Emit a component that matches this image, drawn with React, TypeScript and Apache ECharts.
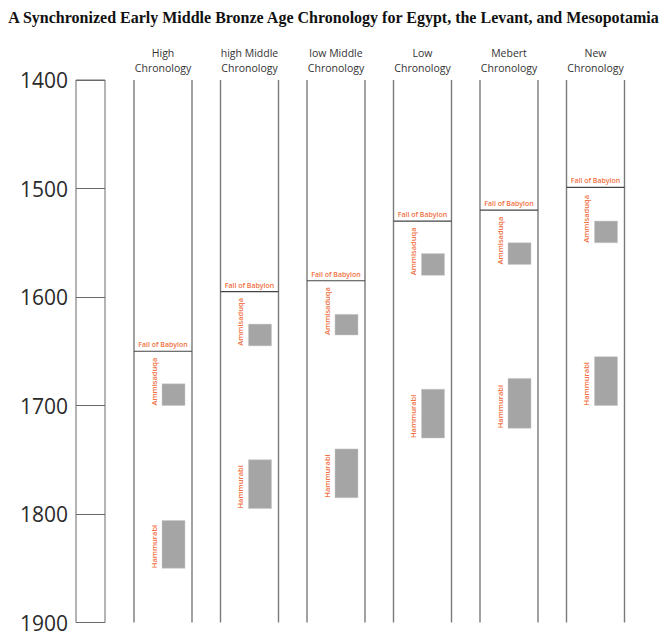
import React, { useEffect, useRef } from "react";
import * as echarts from "echarts";

const titleText =
  "A Synchronized Early Middle Bronze Age Chronology for Egypt, the Levant, and Mesopotamia";
const chronologies = [
  "High\nChronology",
  "high Middle\nChronology",
  "low Middle\nChronology",
  "Low\nChronology",
  "Mebert\nChronology",
  "New\nChronology",
];
const fallOfBabylon = [1650, 1595, 1585, 1530, 1520, 1499];
const ammisaduqaStart = [1680, 1625, 1616, 1560, 1550, 1530];
const ammisaduqaEnd = [1700, 1645, 1635, 1580, 1570, 1550];
const hammurabiStart = [1806, 1750, 1740, 1685, 1675, 1655];
const hammurabiEnd = [1850, 1795, 1785, 1730, 1721, 1700];
const yearMin = 1400;
const yearMax = 1900;
const yearStep = 100;

const ORANGE = "#f2703f";
const FONT = "'Open Sans', 'Noto Sans', sans-serif";

export default function App() {
  const ref = useRef<HTMLDivElement>(null);
  useEffect(() => {
    if (!ref.current) return;
    const chart = echarts.init(ref.current, undefined, { renderer: "svg" });
    const data = chronologies.map((_, i) => [
      i,
      fallOfBabylon[i],
      ammisaduqaStart[i],
      ammisaduqaEnd[i],
      hammurabiStart[i],
      hammurabiEnd[i],
    ]);
    const half = 29;
    const renderItem = (params: any, api: any) => {
      const i = api.value(0);
      const top = api.coord([i, yearMin]);
      const bot = api.coord([i, yearMax]);
      const cx = top[0];
      const yFall = api.coord([i, api.value(1)])[1];
      const a0 = api.coord([i, api.value(2)])[1];
      const a1 = api.coord([i, api.value(3)])[1];
      const h0 = api.coord([i, api.value(4)])[1];
      const h1 = api.coord([i, api.value(5)])[1];
      const lineStyle = { stroke: "#7a7a7a", lineWidth: 1.4 };
      return {
        type: "group",
        children: [
          { type: "line", shape: { x1: cx - half, y1: top[1], x2: cx - half, y2: bot[1] }, style: lineStyle },
          { type: "line", shape: { x1: cx + half, y1: top[1], x2: cx + half, y2: bot[1] }, style: lineStyle },
          { type: "line", shape: { x1: cx - half, y1: yFall, x2: cx + half, y2: yFall }, style: { stroke: "#444", lineWidth: 1.2 } },
          {
            type: "text",
            x: cx,
            y: yFall - 3,
            style: { text: "Fall of Babylon", fill: ORANGE, fontSize: 7, fontWeight: 600, fontFamily: FONT, align: "center", verticalAlign: "bottom" },
          },
          { type: "rect", shape: { x: cx - 1, y: a0, width: 23, height: a1 - a0 }, style: { fill: "#a5a5a5", stroke: "#c8c8c8", lineWidth: 0.5 } },
          { type: "rect", shape: { x: cx - 1, y: h0, width: 23, height: h1 - h0 }, style: { fill: "#a5a5a5", stroke: "#c8c8c8", lineWidth: 0.5 } },
          {
            type: "text",
            x: cx - 9.5,
            y: a1,
            rotation: Math.PI / 2,
            style: { text: "Ammisaduqa", fill: ORANGE, fontSize: 7.5, fontWeight: 600, fontFamily: FONT, align: "left", verticalAlign: "middle" },
          },
          {
            type: "text",
            x: cx - 9.5,
            y: h1,
            rotation: Math.PI / 2,
            style: { text: "Hammurabi", fill: ORANGE, fontSize: 7.5, fontWeight: 600, fontFamily: FONT, align: "left", verticalAlign: "middle" },
          },
        ],
      };
    };
    chart.setOption({
      animation: false,
      backgroundColor: "#ffffff",
      title: {
        text: titleText,
        left: "center",
        top: 4,
        textStyle: { fontFamily: "'Liberation Serif', serif", fontWeight: "bold", fontSize: 16, color: "#111" },
      },
      grid: [
        { left: 76, width: 29, top: 80, bottom: 17.5, show: true, borderColor: "#6a6a6a", borderWidth: 1, containLabel: false },
        { left: 119.75, width: 519, top: 80, bottom: 17.5, containLabel: false },
      ],
      xAxis: [
        { type: "value", gridIndex: 0, show: false, min: 0, max: 1 },
        {
          type: "category",
          gridIndex: 1,
          data: chronologies,
          position: "top",
          axisLine: { show: false },
          axisTick: { show: false },
          splitLine: { show: false },
          axisLabel: { fontSize: 10.5, lineHeight: 15, color: "#333", fontFamily: FONT, margin: 5, interval: 0 },
        },
      ],
      yAxis: [
        {
          type: "value",
          gridIndex: 0,
          inverse: true,
          min: yearMin,
          max: yearMax,
          interval: yearStep,
          axisLine: { show: false },
          axisTick: { show: false },
          splitLine: { show: true, lineStyle: { color: "#6a6a6a", width: 1 } },
          axisLabel: { fontSize: 21, color: "#2a2a2a", fontFamily: FONT, margin: 8, formatter: (v: number) => String(v) },
        },
        {
          type: "value",
          gridIndex: 1,
          inverse: true,
          min: yearMin,
          max: yearMax,
          interval: yearStep,
          show: false,
          splitLine: { show: false },
        },
      ],
      series: [
        {
          type: "custom",
          xAxisIndex: 1,
          yAxisIndex: 1,
          renderItem,
          data,
          clip: false,
          silent: true,
        },
      ],
    });
    return () => chart.dispose();
  }, []);
  return (
    <div
      ref={ref}
      style={{ position: "fixed", left: 0, top: 0, width: 667, height: 640 }}
    />
  );
}
